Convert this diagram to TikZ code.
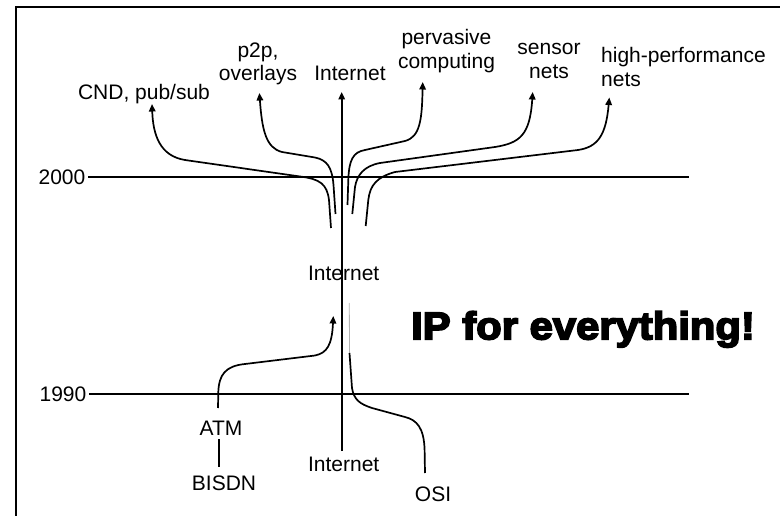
\documentclass[tikz,border=0pt]{standalone}
\usepackage{fontspec}
\setmainfont{Liberation Sans}
\newfontfamily\slogan[FakeStretch=1.08,FakeBold=4.5]{Liberation Sans Bold}
\usetikzlibrary{arrows.meta}
\begin{document}
\begin{tikzpicture}[x=1pt,y=-1pt,
  lbl/.style={inner sep=0pt,font=\fontsize{21}{23.5}\selectfont,align=center},
  yearlbl/.style={lbl,anchor=east,inner sep=2.5pt},
  flow/.style={line width=1.7pt,line join=round},
  arr/.style={flow,-{Triangle[length=7.5pt,width=6.5pt]}},
  frame/.style={line width=2pt},
  timeline/.style={line width=1.7pt}]
\useasboundingbox (0,0) rectangle (780,516);
\fill[white] (0,0) rectangle (780,516);

% frame (top and left edges)
\draw[frame] (16,516) -- (16,7) -- (780,7);

% year lines
\node[yearlbl] (y2000) at (88,177) {2000};
\node[yearlbl] (y1990) at (89,394) {1990};
\coordinate (e2000) at (689,177);
\coordinate (e1990) at (689,394);
\draw[timeline] (y2000.east) -- (e2000);
\draw[timeline] (y1990.east) -- (e1990);

% labels (multi-line labels are placed by the baseline of their last line)
\node[lbl,anchor=base] (cnd) at (144,99.3) {CND, pub/sub};
\node[lbl,anchor=base] (p2p) at (258,80.7) {p2p,\\overlays};
\node[lbl,anchor=base] (inettop) at (350,80.7) {Internet};
\node[lbl,anchor=base] (perv) at (446.5,68.3) {pervasive\\computing};
\node[lbl,anchor=base] (sens) at (549,78.3) {sensor\\nets};
\node[lbl,anchor=base west,align=left] (hpn) at (601,86.5) {high-performance\\nets};
\node[lbl,anchor=base] (inetmid) at (343.7,280) {Internet};
\node[lbl,anchor=base] (inetlow) at (343.7,471.7) {Internet};
\node[lbl,anchor=base] (atm) at (221,435) {ATM};
\node[lbl,anchor=base] (bisdn) at (224,490) {BISDN};
\node[lbl,anchor=base] (osi) at (433,501.7) {OSI};
\node[inner sep=0pt,anchor=base west,font=\slogan\fontsize{38.7}{40}\selectfont] (ip) at (411,339.3) {IP for everything!};

% end points of the flows
\coordinate (trunkbot) at (341.7,451);
\coordinate (trunktop) at (341.7,92);
\coordinate (cndtip) at (152,104);
\coordinate (p2ptip) at (259.4,93);
\coordinate (pervtip) at (422.7,82);
\coordinate (senstip) at (532.7,92);
\coordinate (hpntip) at (609.3,97.5);
\coordinate (atmtip) at (333.3,316);
\coordinate (cndfoot) at (331,228);
\coordinate (p2pfoot) at (335.5,214);
\coordinate (pervfoot) at (347.5,205);
\coordinate (sensfoot) at (352.3,214);
\coordinate (hpnfoot) at (365.7,226);
\coordinate (atmfoot) at (218,408);
\coordinate (osifoot) at (349.5,353);
\coordinate (osiend) at (425,473);
\coordinate (ghosttop) at (349.3,303);

% the Internet trunk
\draw[arr] (trunkbot) -- (trunktop);

% ATM below, BISDN
\draw[flow] ([xshift=-2pt,yshift=-4pt]atm.south) -- ([xshift=-5pt,yshift=8pt]bisdn.north);

% ATM merging into the Internet
\draw[arr] (atmfoot) -- (218.3,392)
  .. controls (219,375) and (225,366) .. (245,364) -- (315,355.5)
  .. controls (327,353) and (332,345) .. (atmtip);

% OSI branching off
\draw[gray!60,line width=0.8pt] (ghosttop) -- (osifoot);
\draw[flow] (osifoot) -- (352,388)
  .. controls (354,400) and (360,404) .. (372,408) -- (405,417)
  .. controls (417,420) and (424,428) .. (424.6,450) -- (osiend);

% fan-out after 2000
\draw[arr] (cndfoot) -- (329,200)
  .. controls (327,184) and (320,179) .. (300,176.5) -- (185,160)
  .. controls (160,156) and (153,135) .. (cndtip);
\draw[arr] (p2pfoot) -- (333.5,185)
  .. controls (332,167) and (327,160) .. (315,157.5) -- (282,152)
  .. controls (266,148) and (262,130) .. (p2ptip);
\draw[arr] (pervfoot) -- (348.3,180)
  .. controls (349,160) and (353,152) .. (365,150) -- (405,141)
  .. controls (420,137) and (422,120) .. (pervtip);
\draw[arr] (sensfoot) -- (355,187)
  .. controls (357,175) and (364,166) .. (380,163) -- (495,147)
  .. controls (520,143) and (530,135) .. (senstip);
\draw[arr] (hpnfoot) -- (368.3,200)
  .. controls (370,185) and (377,177) .. (395,172) -- (578,150)
  .. controls (598,147) and (606,135) .. (hpntip);
\end{tikzpicture}
\end{document}
